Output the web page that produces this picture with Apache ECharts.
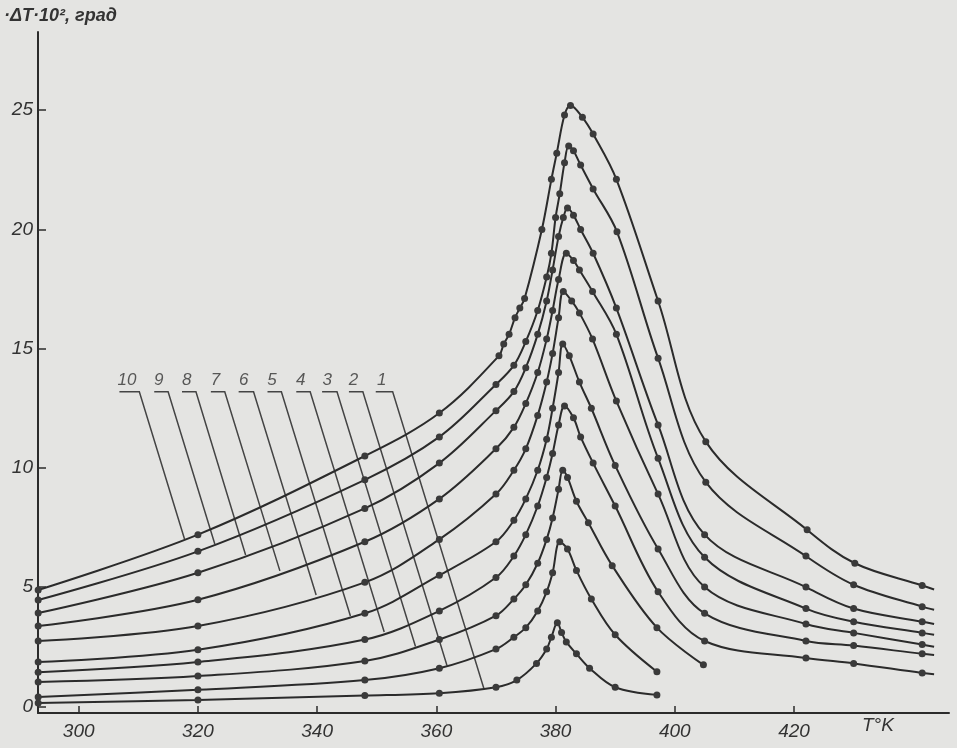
<!DOCTYPE html>
<html>
<head>
<meta charset="utf-8">
<script src="https://cdn.jsdelivr.net/npm/echarts@6/dist/echarts.min.js"></script>
<style>
html,body{margin:0;padding:0;background:#e4e4e2;}
#chart{width:957px;height:748px;}
</style>
</head>
<body>
<div id="chart"></div>
<script>
// ---- data ----
const xTicks = [300, 320, 340, 360, 380, 400, 420];
const yTicks = [0, 5, 10, 15, 20, 25];
const curveNames = ['1', '2', '3', '4', '5', '6', '7', '8', '9', '10'];

const c1x = [293.2, 320, 348, 360.5, 370, 373.5, 376.8, 378.5, 379.3, 380.3, 381, 381.8, 383.5, 385.7, 390, 397];
const c1y = [0.14, 0.27, 0.45, 0.55, 0.8, 1.1, 1.8, 2.4, 2.9, 3.5, 3.1, 2.7, 2.2, 1.6, 0.8, 0.48];

const c2x = [293.2, 320, 348, 360.5, 370, 373, 375, 377, 378.5, 379.5, 380.7, 382, 383.5, 386, 390, 397];
const c2y = [0.39, 0.69, 1.1, 1.6, 2.4, 2.9, 3.3, 4.0, 4.8, 5.6, 6.9, 6.6, 5.7, 4.5, 3.0, 1.45];

const c3x = [293.2, 320, 348, 360.5, 370, 373, 375, 377, 378.5, 379.5, 380.5, 381.2, 382, 383.5, 385.5, 389.5, 397, 404.8];
const c3y = [1.02, 1.27, 1.9, 2.8, 3.8, 4.5, 5.1, 6.0, 7.0, 7.9, 9.1, 9.9, 9.6, 8.6, 7.7, 5.9, 3.3, 1.74];

const c4x = [293.2, 320, 348, 360.5, 370, 373, 375, 377, 378.5, 379.5, 380.5, 381.5, 383, 384.2, 386.3, 390, 397.2, 405, 422, 430, 441.5];
const c4y = [1.43, 1.86, 2.8, 4.0, 5.4, 6.3, 7.2, 8.4, 9.6, 10.6, 11.8, 12.6, 12.1, 11.3, 10.2, 8.4, 4.8, 2.74, 2.03, 1.8, 1.40];

const c5x = [293.2, 320, 348, 360.5, 370, 373, 375, 377, 378.5, 379.5, 380.5, 381.2, 382.3, 384, 386, 390, 397.2, 405, 422, 430, 441.5];
const c5y = [1.86, 2.37, 3.9, 5.5, 6.9, 7.8, 8.7, 9.9, 11.2, 12.5, 14.0, 15.2, 14.7, 13.6, 12.5, 10.1, 6.6, 3.9, 2.74, 2.55, 2.2];

const c6x = [293.2, 320, 348, 360.5, 370, 373, 375, 377, 378.5, 379.5, 380.5, 381.3, 382.7, 384, 386.2, 390.2, 397.2, 405, 422, 430, 441.5];
const c6y = [2.74, 3.37, 5.2, 7.0, 8.9, 9.9, 10.8, 12.2, 13.6, 14.8, 16.3, 17.4, 17.0, 16.5, 15.4, 12.8, 8.9, 5.0, 3.45, 3.08, 2.59];

const c7x = [293.2, 320, 348, 360.5, 370, 373, 375, 377, 378.5, 379.5, 380.5, 381.8, 383, 384, 386.2, 390.2, 397.2, 405, 422, 430, 441.5];
const c7y = [3.37, 4.47, 6.9, 8.7, 10.8, 11.7, 12.7, 14.0, 15.4, 16.6, 17.9, 19.0, 18.7, 18.3, 17.4, 15.6, 10.4, 6.25, 4.1, 3.55, 3.08];

const c8x = [293.2, 320, 348, 360.5, 370, 373, 375, 377, 378.5, 379.5, 380.5, 381.3, 382, 383, 384.2, 386.3, 390.2, 397.2, 405, 422, 430, 441.5];
const c8y = [3.91, 5.6, 8.3, 10.2, 12.4, 13.2, 14.2, 15.6, 17.0, 18.3, 19.7, 20.5, 20.9, 20.6, 20.0, 19.0, 16.7, 11.8, 7.2, 5.0, 4.1, 3.55];

const c9x = [293.2, 320, 348, 360.5, 370, 373, 375, 377, 378.5, 379.3, 380, 380.7, 381.5, 382.2, 383, 384.2, 386.3, 390.3, 397.2, 405.2, 422, 430, 441.5];
const c9y = [4.46, 6.5, 9.5, 11.3, 13.5, 14.3, 15.3, 16.6, 18.0, 19.0, 20.5, 21.5, 22.8, 23.5, 23.3, 22.7, 21.7, 19.9, 14.6, 9.4, 6.3, 5.1, 4.18];

const c10x = [293.2, 320, 348, 360.5, 370.5, 371.3, 372.2, 373.2, 374, 374.8, 377.7, 379.3, 380.2, 381.5, 382.5, 384.5, 386.3, 390.2, 397.2, 405.2, 422.2, 430.2, 441.5];
const c10y = [4.88, 7.2, 10.5, 12.3, 14.7, 15.2, 15.6, 16.3, 16.7, 17.1, 20.0, 22.1, 23.2, 24.8, 25.2, 24.7, 24.0, 22.1, 17.0, 11.1, 7.4, 6.0, 5.07];

const curvesX = [c1x, c2x, c3x, c4x, c5x, c6x, c7x, c8x, c9x, c10x];
const curvesY = [c1y, c2y, c3y, c4y, c5y, c6y, c7y, c8y, c9y, c10y];

// line tails drawn past the last measured point (no marker), curves 1..10 (null = none)
const tailX = [null, null, null, 443.5, 443.5, 443.5, 443.5, 443.5, 443.5, 443.5];
const tailY = [null, null, null, 1.35, 2.15, 2.5, 3.0, 3.45, 4.05, 4.9];

// leader-line annotations (data coordinates)
const leaderLevel = 13.19;
const leaderStartX = [349.83, 345.33, 340.83, 336.5, 331.67, 326.83, 322.17, 317.33, 312.67, 306.83];
const leaderBendX  = [352.67, 347.67, 343.33, 338.83, 334.0, 329.33, 324.5, 319.67, 315.0, 310.17];
const leaderEndX   = [367.97, 361.78, 356.5, 351.25, 345.58, 339.83, 333.75, 328.0, 322.83, 317.75];
const leaderEndY   = [0.75, 1.71, 2.51, 3.12, 3.79, 4.67, 5.68, 6.35, 6.81, 7.02];

// ---- chart ----
const ink = '#2b2b2b';
const fontFam = '"Liberation Sans", "DejaVu Sans", sans-serif';

const series = curvesX.map((xs, i) => {
  const data = xs.map((x, j) => [x, curvesY[i][j]]);
  if (tailX[i] !== null) data.push({ value: [tailX[i], tailY[i]], symbol: 'none' });
  return {
    type: 'line',
    name: curveNames[i],
    data: data,
    smooth: 0.35,
    symbol: 'circle',
    symbolSize: 7,
    lineStyle: { color: ink, width: 2 },
    itemStyle: { color: '#3a3a3a' },
    z: 3,
    silent: true
  };
});

series.push({
  type: 'lines',
  coordinateSystem: 'cartesian2d',
  polyline: true,
  silent: true,
  lineStyle: { color: '#444', width: 1.5, opacity: 1 },
  data: curveNames.map((n, i) => ({
    coords: [[leaderStartX[i], leaderLevel], [leaderBendX[i], leaderLevel], [leaderEndX[i], leaderEndY[i]]]
  })),
  z: 2
});

series.push({
  type: 'scatter',
  silent: true,
  symbolSize: 1,
  itemStyle: { color: 'rgba(0,0,0,0)' },
  data: curveNames.map((n, i) => ({ name: n, value: [(leaderStartX[i] + leaderBendX[i]) / 2 - 0.4, leaderLevel] })),
  label: {
    show: true, position: 'top', distance: 3,
    formatter: p => p.name,
    fontStyle: 'italic', fontSize: 17, color: '#333', fontFamily: fontFam
  },
  z: 4
});

const chart = echarts.init(document.getElementById('chart'), null, { renderer: 'canvas' });
chart.setOption({
  backgroundColor: '#e4e4e2',
  animation: false,
  grid: { left: 38, right: 8, top: 32, bottom: 35, containLabel: false },
  xAxis: {
    type: 'value', min: 293.17, max: 446,
    axisLine: { show: true, onZero: false, lineStyle: { color: ink, width: 2 } },
    axisTick: { show: true, inside: true, length: 7, customValues: xTicks, lineStyle: { color: ink, width: 1.5 } },
    axisLabel: { show: true, customValues: xTicks, margin: 9, fontStyle: 'italic', fontSize: 19, color: '#333', fontFamily: fontFam },
    splitLine: { show: false }
  },
  yAxis: {
    type: 'value', min: -0.28, max: 28.28,
    axisLine: { show: true, onZero: false, lineStyle: { color: ink, width: 2 } },
    axisTick: { show: true, inside: true, length: 8, customValues: yTicks, lineStyle: { color: ink, width: 1.5 } },
    axisLabel: { show: true, customValues: yTicks, margin: 5, fontStyle: 'italic', fontSize: 19, color: '#333', fontFamily: fontFam },
    splitLine: { show: false }
  },
  graphic: [
    { type: 'text', left: 4, top: 7, style: { text: '·ΔT·10², град', fontStyle: 'italic', fontWeight: 'bold', fontSize: 18, fill: '#333', fontFamily: fontFam } },
    { type: 'text', left: 862, top: 716, style: { text: 'T°K', fontStyle: 'italic', fontSize: 19, fill: '#333', fontFamily: fontFam } }
  ],
  series: series
});
</script>
</body>
</html>
